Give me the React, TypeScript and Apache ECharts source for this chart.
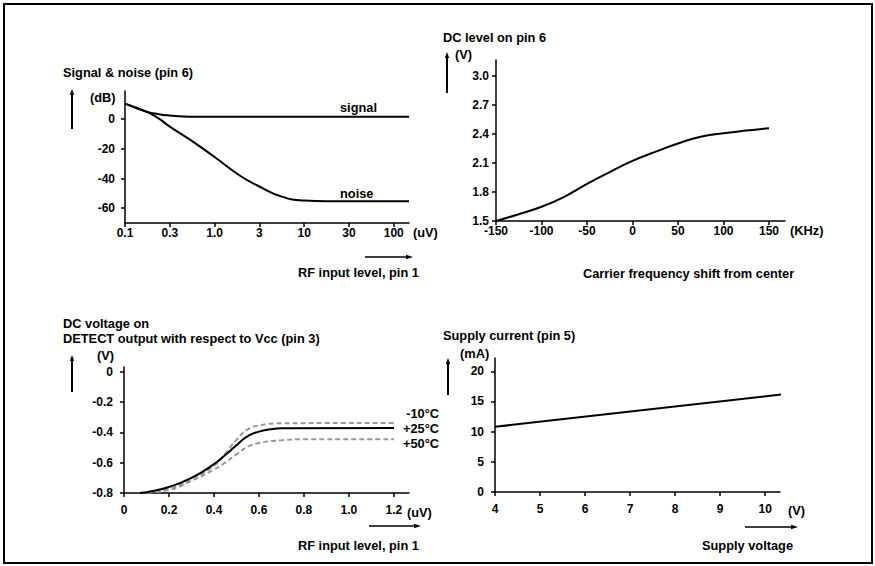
import React, { useEffect, useRef } from "react";
import * as echarts from "echarts";

// ---------- Panel 1: Signal & noise vs RF input level ----------
const p1XTickLabels = ["0.1", "0.3", "1.0", "3", "10", "30", "100"];
const p1XTicks = [0, 1, 2, 3, 4, 5, 6];
const p1YTicks = [-60, -40, -20, 0];
const p1Signal: [number, number][] = [
  [0, 10.5], [0.5, 4.8], [0.75, 3.4], [1, 2.5], [1.3, 1.8], [1.6, 1.6], [6.34, 1.6],
];
const p1Noise: [number, number][] = [
  [0, 10.5], [0.5, 4.8], [0.75, 0.5], [1, -5], [1.45, -13.8], [2, -25.5], [2.56, -38],
  [3, -45.4], [3.5, -52.2], [4, -54.9], [4.5, -55.4], [6.34, -55.4],
];

// ---------- Panel 2: DC level on pin 6 vs carrier shift ----------
const p2XTicks = [-150, -100, -50, 0, 50, 100, 150];
const p2YTicks = [1.5, 1.8, 2.1, 2.4, 2.7, 3.0];
const p2Shift = [-150, -125, -100, -75, -50, -25, 0, 25, 50, 75, 100, 125, 150];
const p2Level = [1.5, 1.57, 1.647, 1.75, 1.884, 2.006, 2.121, 2.215, 2.302, 2.372, 2.407, 2.435, 2.459];

// ---------- Panel 3: DC voltage on DETECT output ----------
const p3XTicks = [0, 0.2, 0.4, 0.6, 0.8, 1.0, 1.2];
const p3YTicks = [-0.8, -0.6, -0.4, -0.2, 0];
const p3Minus10: [number, number][] = [
  [0.07, -0.8], [0.2, -0.77], [0.3, -0.71], [0.4, -0.62], [0.45, -0.54], [0.5, -0.45],
  [0.55, -0.38], [0.6, -0.355], [0.7, -0.34], [1.2, -0.338],
];
const p3Plus25: [number, number][] = [
  [0.07, -0.8], [0.1, -0.795], [0.2, -0.76], [0.3, -0.7], [0.4, -0.61], [0.45, -0.55],
  [0.5, -0.485], [0.55, -0.425], [0.6, -0.395], [0.65, -0.38], [0.7, -0.373], [1.2, -0.372],
];
const p3Plus50: [number, number][] = [
  [0.07, -0.8], [0.2, -0.78], [0.3, -0.72], [0.4, -0.645], [0.45, -0.6], [0.5, -0.545],
  [0.55, -0.495], [0.6, -0.47], [0.7, -0.452], [0.8, -0.446], [1.2, -0.446],
];

// ---------- Panel 4: Supply current vs supply voltage ----------
const p4XTicks = [4, 5, 6, 7, 8, 9, 10];
const p4YTicks = [0, 5, 10, 15, 20];
const p4Voltage = [4, 10.43];
const p4Current = [10.8, 16.2];

const FONT_FAMILY = '"Liberation Sans", Arial, Helvetica, sans-serif';
const FONT = `bold 12.8px ${FONT_FAMILY}`;

function axis(
  kind: "x" | "y",
  gridIndex: number,
  min: number,
  max: number,
  ticks: number[],
  margin: number,
  formatter: (v: number) => string
) {
  return {
    type: "value",
    gridIndex,
    min,
    max,
    axisLine: { show: true, onZero: false, lineStyle: { color: "#000", width: 1.5 } },
    axisTick: { show: true, length: 4, customValues: ticks, lineStyle: { color: "#000", width: 1.5 } },
    axisLabel: {
      show: true,
      customValues: ticks,
      margin,
      color: "#000",
      fontSize: 12,
      fontWeight: "bold",
      fontFamily: FONT_FAMILY,
      formatter,
    },
    splitLine: { show: false },
  };
}

function text(str: string, x: number, y: number, align = "left") {
  return {
    type: "text",
    x,
    y,
    style: { text: str, font: FONT, fill: "#000", align, verticalAlign: "middle" },
  };
}

function vArrow(x: number, yBottom: number, yTop: number) {
  return [
    { type: "line", shape: { x1: x, y1: yBottom, x2: x, y2: yTop + 4 }, style: { stroke: "#000", lineWidth: 2 } },
    { type: "polygon", shape: { points: [[x - 2.2, yTop + 6], [x + 2.2, yTop + 6], [x, yTop]] }, style: { fill: "#000" } },
  ];
}

function hArrow(y: number, xLeft: number, xRight: number) {
  return [
    { type: "line", shape: { x1: xLeft, y1: y, x2: xRight - 4, y2: y }, style: { stroke: "#000", lineWidth: 1.6 } },
    { type: "polygon", shape: { points: [[xRight - 7, y - 2.2], [xRight - 7, y + 2.2], [xRight, y]] }, style: { fill: "#000" } },
  ];
}

const solid = { color: "#000", width: 2 };
const dashed = { color: "#999", width: 2, type: [5, 3] };

function curve(xi: number, data: [number, number][], lineStyle: any) {
  return {
    type: "line",
    xAxisIndex: xi,
    yAxisIndex: xi,
    data,
    smooth: 0.5,
    showSymbol: false,
    symbol: "none",
    lineStyle,
  };
}

export default function App() {
  const ref = useRef<HTMLDivElement>(null);

  useEffect(() => {
    if (!ref.current) return;
    const chart = echarts.init(ref.current, null, { renderer: "svg" });

    const option: any = {
      animation: false,
      backgroundColor: "#fff",
      grid: [
        { left: 125, top: 91, width: 284, height: 132, containLabel: false, outerBoundsMode: "none" },
        { left: 496, top: 60, width: 289, height: 161, containLabel: false, outerBoundsMode: "none" },
        { left: 124, top: 367, width: 285, height: 126, containLabel: false, outerBoundsMode: "none" },
        { left: 495, top: 358, width: 285, height: 134, containLabel: false, outerBoundsMode: "none" },
      ],
      xAxis: [
        axis("x", 0, 0, 6.34, p1XTicks, 4, (v: number) => p1XTickLabels[Math.round(v)] ?? ""),
        axis("x", 1, -150, 167.6, p2XTicks, 4, (v: number) => String(v)),
        axis("x", 2, 0, 1.267, p3XTicks, 11, (v: number) => (v === 0 ? "0" : v.toFixed(1))),
        axis("x", 3, 4, 10.33, p4XTicks, 11, (v: number) => String(v)),
      ],
      yAxis: [
        axis("y", 0, -70, 19, p1YTicks, 10, (v: number) => String(v)),
        axis("y", 1, 1.5, 3.165, p2YTicks, 7, (v: number) => v.toFixed(1)),
        axis("y", 2, -0.8, 0.031, p3YTicks, 11, (v: number) => (v === 0 ? "0" : v.toFixed(1))),
        axis("y", 3, 0, 22.2, p4YTicks, 11, (v: number) => String(v)),
      ],
      series: [
        curve(0, p1Signal, solid),
        curve(0, p1Noise, solid),
        curve(1, p2Shift.map((x, i) => [x, p2Level[i]] as [number, number]), solid),
        curve(2, p3Minus10, dashed),
        curve(2, p3Plus50, dashed),
        curve(2, p3Plus25, solid),
        {
          type: "line", xAxisIndex: 3, yAxisIndex: 3, clip: false,
          data: p4Voltage.map((x, i) => [x, p4Current[i]]),
          showSymbol: false, symbol: "none", lineStyle: solid,
        },
      ],
      graphic: [
        { type: "rect", shape: { x: 4, y: 4, width: 868, height: 559 }, style: { fill: "none", stroke: "#000", lineWidth: 2 } },
        // panel 1
        text("Signal & noise (pin 6)", 63, 72),
        text("(dB)", 90, 97),
        text("signal", 340, 107),
        text("noise", 340, 193),
        text("(uV)", 413, 232),
        text("RF input level, pin 1", 298, 272),
        ...vArrow(72, 129, 89),
        ...hArrow(257, 365, 413),
        // panel 2
        text("DC level on pin 6", 443, 37),
        text("(V)", 455, 54),
        text("(KHz)", 790, 230),
        text("Carrier frequency shift from center", 583, 273),
        ...vArrow(447, 93, 52),
        // panel 3
        text("DC voltage on", 63, 323),
        text("DETECT output with respect to Vcc (pin 3)", 63, 338),
        text("(V)", 97, 355),
        text("-10°C", 439, 413, "right"),
        text("+25°C", 439, 428, "right"),
        text("+50°C", 439, 443, "right"),
        text("(uV)", 407, 512),
        text("RF input level, pin 1", 298, 545),
        ...vArrow(72, 392, 355),
        ...hArrow(526, 369, 421),
        // panel 4
        text("Supply current (pin 5)", 443, 335),
        text("(mA)", 460, 353),
        text("(V)", 788, 510),
        text("Supply voltage", 702, 545),
        ...vArrow(448, 395, 358),
        ...hArrow(527, 745, 798),
      ],
    };

    chart.setOption(option);
    return () => chart.dispose();
  }, []);

  return (
    <div
      ref={ref}
      style={{ position: "fixed", left: 0, top: 0, width: 875, height: 566, background: "#fff" }}
    />
  );
}
